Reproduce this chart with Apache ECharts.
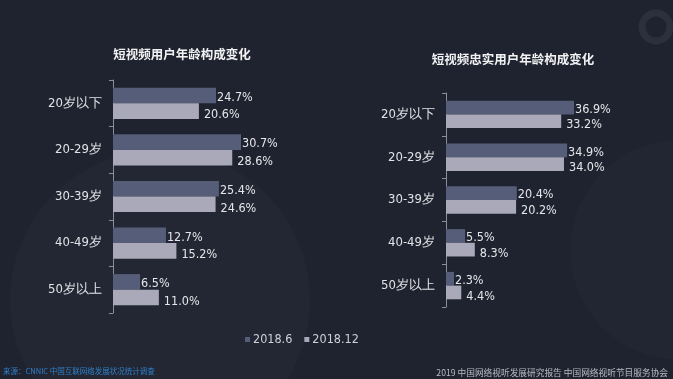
<!DOCTYPE html>
<html>
<head>
<meta charset="utf-8">
<script src="https://cdn.jsdelivr.net/npm/echarts@6/dist/echarts.min.js"></script>
<style>html,body{margin:0;padding:0;background:#1f2330;}#c{width:673px;height:379px;}</style>
</head>
<body>
<div id="c"></div>
<script>
const categories = ['20岁以下', '20-29岁', '30-39岁', '40-49岁', '50岁以上'];
const seriesNames = ['2018.6', '2018.12'];
const leftTitle = '短视频用户年龄构成变化';
const rightTitle = '短视频忠实用户年龄构成变化';
const leftJun = [24.7, 30.7, 25.4, 12.7, 6.5];
const leftDec = [20.6, 28.6, 24.6, 15.2, 11.0];
const rightJun = [36.9, 34.9, 20.4, 5.5, 2.3];
const rightDec = [33.2, 34.0, 20.2, 8.3, 4.4];
const sourceText = '来源：CNNIC 中国互联网络发展状况统计调查';
const footerText = '2019 中国网络视听发展研究报告 中国网络视听节目服务协会';

const colors = ['#565d79', '#a9a9b9'];
const labelFont = 'DejaVu Sans Condensed, Roboto, sans-serif';

function catAxis(gridIndex) {
  return {
    type: 'category', gridIndex, data: categories, inverse: true,
    axisLine: { lineStyle: { color: '#8a8e9a', width: 1 } },
    axisTick: { show: true, length: 4, inside: false, lineStyle: { color: '#8a8e9a' } },
    axisLabel: { color: '#e2e2e6', fontSize: 13, margin: 11, fontFamily: labelFont }
  };
}
function valAxis(gridIndex, max) {
  return { type: 'value', gridIndex, min: 0, max, show: false };
}
function barSeries(name, data, idx, gap) {
  const k = seriesNames.indexOf(name);
  return {
    name, type: 'bar', data, xAxisIndex: idx, yAxisIndex: idx,
    barGap: '0%', barCategoryGap: gap,
    itemStyle: { color: colors[k] },
    label: {
      show: true, position: 'right', distance: k === 0 ? 1 : 5, offset: [0, k === 0 ? 2 : 4],
      color: '#e6e6ea', fontSize: 12.5, fontFamily: labelFont,
      formatter: p => p.value.toFixed(1) + '%'
    }
  };
}

const chart = echarts.init(document.getElementById('c'), null, { renderer: 'canvas' });
chart.setOption({
  backgroundColor: '#1f2330',
  animation: false,
  title: [
    { text: leftTitle, left: 177, top: 43, textAlign: 'center',
      textStyle: { color: '#f2f2f2', fontSize: 12.5, fontWeight: 'bold', fontFamily: 'Noto Sans CJK SC' } },
    { text: rightTitle, left: 508, top: 48, textAlign: 'center',
      textStyle: { color: '#f2f2f2', fontSize: 12.5, fontWeight: 'bold', fontFamily: 'Noto Sans CJK SC' } }
  ],
  legend: {
    data: seriesNames, left: 240, top: 328, itemWidth: 5, itemHeight: 5, itemGap: 12,
    icon: 'rect',
    textStyle: { color: '#d0d0d6', fontSize: 12.5, fontFamily: labelFont, padding: [0, 0, 0, -2] }
  },
  grid: [
    { left: 113, top: 80, width: 166.8, height: 233 },
    { left: 446, top: 93, width: 173.5, height: 214 }
  ],
  xAxis: [valAxis(0, 40), valAxis(1, 50)],
  yAxis: [catAxis(0), catAxis(1)],
  series: [
    barSeries(seriesNames[0], leftJun, 0, '33%'),
    barSeries(seriesNames[1], leftDec, 0, '33%'),
    barSeries(seriesNames[0], rightJun, 1, '36%'),
    barSeries(seriesNames[1], rightDec, 1, '36%')
  ],
  graphic: [
    { type: 'circle', z: -10, silent: true, shape: { cx: 160, cy: 300, r: 150 },
      style: { fill: 'rgba(255,255,255,0.018)' } },
    { type: 'circle', z: -10, silent: true, shape: { cx: 680, cy: 250, r: 110 },
      style: { fill: 'rgba(255,255,255,0.015)' } },
    { type: 'circle', z: -10, silent: true, shape: { cx: 656, cy: 27, r: 14 },
      style: { fill: 'none', stroke: 'rgba(255,255,255,0.06)', lineWidth: 7 } },
    { type: 'text', left: 3, top: 367, silent: true,
      style: { text: sourceText, fill: '#2f7fc8', font: '7.5px "Noto Sans CJK SC"' } },
    { type: 'text', right: 5, top: 368, silent: true,
      style: { text: footerText, fill: '#b8bac2', font: '8.7px "Noto Sans CJK SC"' } }
  ]
});
</script>
</body>
</html>
